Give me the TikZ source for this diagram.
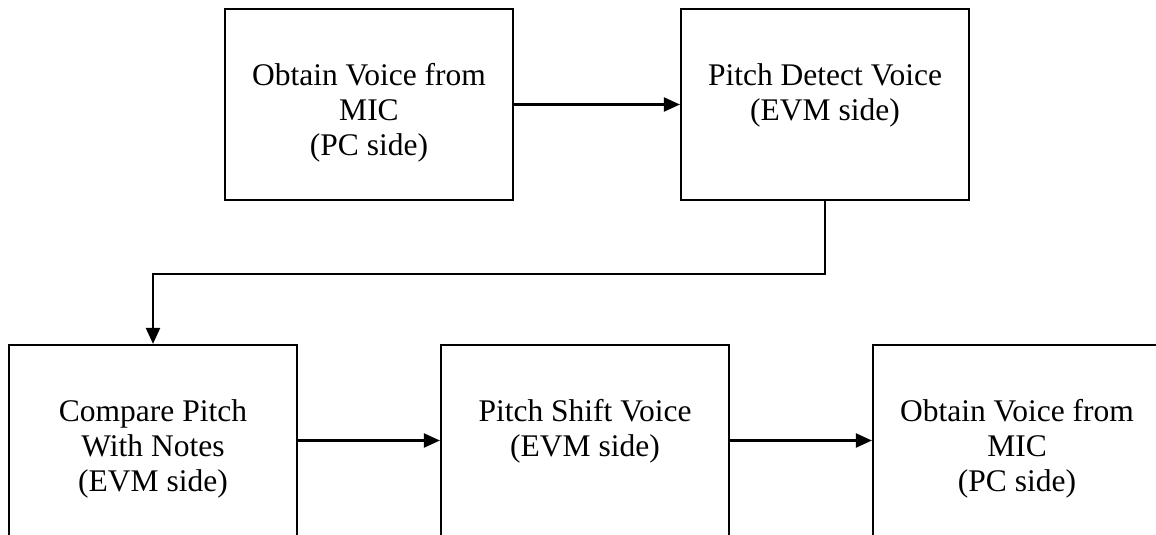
\documentclass[tikz,border=0pt]{standalone}
\usepackage{fontspec}
\setmainfont{Liberation Serif}
\usetikzlibrary{positioning,arrows.meta}

\begin{document}
\begin{tikzpicture}[x=1pt,y=-1pt,
        stage/.style={draw,line width=2.2pt,minimum width=288pt,minimum height=191pt,inner sep=0pt},
        caption/.style={align=center,inner sep=0pt,font=\fontsize{31.5}{35}\selectfont},
        flow/.style={draw,line width=2.2pt,->},
        >={Triangle[length=16pt,width=14pt]}]
                \useasboundingbox (0,0) rectangle (1156,535);
                \clip (0,0) rectangle (1156,535);

                % first row
                \node[stage] (obtain) at (369,104.5) {};
                \node[stage] (detect) at (825,104.5) {};

                % second row, runs off the page
                \node[stage] (compare) at (153,440.5) {};
                \node[stage] (shift) at (585,440.5) {};
                \node[stage] (output) at (1017,440.5) {};

                \node[caption,below=55.5pt of obtain.north] (obtaintxt) {Obtain Voice from\\MIC\\(PC side)};
                \node[caption,below=55.5pt of detect.north] (detecttxt) {Pitch Detect Voice\\(EVM side)};
                \node[caption,below=55.5pt of compare.north] (comparetxt) {Compare Pitch\\With Notes\\(EVM side)};
                \node[caption,below=55.5pt of shift.north] (shifttxt) {Pitch Shift Voice\\(EVM side)};
                \node[caption,below=55.5pt of output.north] (outputtxt) {Obtain Voice from\\MIC\\(PC side)};

                \path[flow] (obtain) -- (detect);
                \path[flow] (detect.south) -- ++(0,73) -| (compare.north);
                \path[flow] (compare) -- (shift);
                \path[flow] (shift) -- (output);

            \end{tikzpicture}
\end{document}
